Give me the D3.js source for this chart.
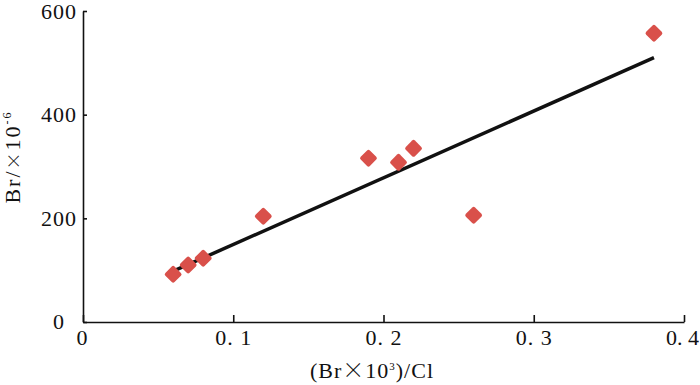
<!DOCTYPE html>
<html>
<head>
<meta charset="utf-8">
<script src="https://cdn.jsdelivr.net/npm/d3@7"></script>
<style>
  body { margin: 0; background: #fff; }
  svg text { font-family: "Liberation Serif", "Times New Roman", serif; fill: #111; }
  .cjk { font-family: "Noto Sans CJK SC", sans-serif; font-weight: 300; }
</style>
</head>
<body>
<main></main>
<script>
// data
const ratio = [0.06, 0.07, 0.08, 0.12, 0.19, 0.21, 0.22, 0.26, 0.38]
const br = [92, 110, 123, 204, 316, 308, 335, 206, 557]
const fitX = [0.06, 0.38]
const fitY = [98, 510]
const xTicks = [0, 0.1, 0.2, 0.3, 0.4]
const yTicks = [0, 200, 400, 600]

const size = { width: 700, height: 385 }
const plot = { left: 83, right: 684, top: 11, bottom: 322 }

const svg = d3.select('main')
    .append('svg')
    .attr('width', size.width)
    .attr('height', size.height)

const x = d3.scaleLinear().domain([0, 0.4]).range([plot.left, plot.right])
const y = d3.scaleLinear().domain([0, 600]).range([plot.bottom, plot.top])

// x axis, ticks pointing up
const xAxis = svg.append('g')
    .attr('transform', `translate(0,${plot.bottom})`)
    .call(d3.axisBottom(x).tickValues(xTicks).tickSizeInner(-7).tickSizeOuter(0)
        .tickFormat(d => d === 0 ? '0' : d3.format('.1f')(d).replace('.', '. ')))
xAxis.selectAll('text')
    .attr('y', 23).attr('dy', 0)
    .style('font-size', '22px')
    .style('letter-spacing', '1px')
xAxis.selectAll('.tick').filter(d => d === 0).select('text').attr('x', -1)
// last label sits at the right edge like in the original, a bit tighter
xAxis.selectAll('.tick').filter(d => d === 0.4).select('text')
    .style('letter-spacing', '0px').attr('x', -2)

// y axis, short ticks on the inside
const yAxis = svg.append('g')
    .attr('transform', `translate(${plot.left},0)`)
    .call(d3.axisLeft(y).tickValues(yTicks).tickSizeInner(-4).tickSizeOuter(0))
yAxis.selectAll('text')
    .attr('x', -6).attr('dy', '0.33em')
    .style('font-size', '22px')
    .style('letter-spacing', '1px')
yAxis.selectAll('.tick').filter(d => d === 0).select('text').attr('x', -18).attr('dy', '0.3em')

svg.selectAll('.domain, .tick line').attr('stroke', '#111').attr('stroke-width', 1.6)
svg.selectAll('.tick text').attr('fill', '#111')

// fitted line
svg.append('line')
    .attr('x1', x(fitX[0])).attr('y1', y(fitY[0]))
    .attr('x2', x(fitX[1])).attr('y2', y(fitY[1]))
    .attr('stroke', '#111')
    .attr('stroke-width', 3.5)

// diamonds
svg.append('g')
    .selectAll('rect')
    .data(ratio.map((d, i) => [d, br[i]]))
    .enter()
    .append('rect')
    .attr('x', -6.5).attr('y', -6.5)
    .attr('width', 13).attr('height', 13)
    .attr('rx', 2)
    .attr('fill', '#d9504a')
    .attr('transform', d => `translate(${x(d[0])},${y(d[1])}) rotate(45)`)

// axis titles
svg.append('text')
    .attr('x', 372).attr('y', 378)
    .attr('text-anchor', 'middle')
    .style('font-size', '22px')
    .style('letter-spacing', '1px')
    .html('(Br<tspan class="cjk">×</tspan>10<tspan dy="-8" font-size="11">3</tspan><tspan dy="8">)/Cl</tspan>')

svg.append('text')
    .attr('transform', 'translate(20,157) rotate(-90)')
    .attr('text-anchor', 'middle')
    .style('font-size', '22px')
    .style('letter-spacing', '2px')
    .html('Br/<tspan class="cjk" font-size="17">×</tspan>10<tspan dy="-9" font-size="12">-6</tspan>')
</script>
</body>
</html>
